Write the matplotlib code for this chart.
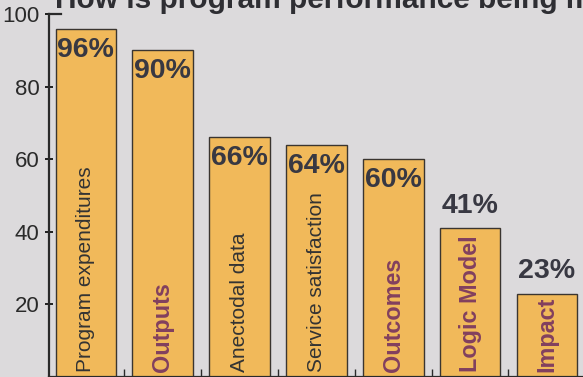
import matplotlib
matplotlib.use("Agg")
import matplotlib.pyplot as plt

categories = ["Program expenditures", "Outputs", "Anectodal data", "Service satisfaction",
              "Outcomes", "Logic Model", "Impact"]
percent = [96, 90, 66, 64, 60, 41, 23]
bold_label = [False, True, False, False, True, True, True]
y_ticks = [20, 40, 60, 80, 100]
title = "How is program performance being measured?"

BG = "#dcdadc"
BAR = "#f1b95a"
PURPLE = "#82405f"
DARK = "#333333"
FONT = "Liberation Sans"

fig = plt.figure(figsize=(5.83, 3.77), dpi=100, facecolor=BG)
ax = fig.add_axes([49 / 583, 0.0, 534 / 583, 363 / 377])
ax.set_facecolor(BG)
ax.set_xlim(-0.48, 6.47)
ax.set_ylim(0, 100)

x = range(len(categories))
ax.bar(x, percent, width=0.79, color=BAR, edgecolor="#3a3530", linewidth=1.0, zorder=2)

for i, (cat, val, bold) in enumerate(zip(categories, percent, bold_label)):
    if val > 50:
        ax.text(i, val - 2.2, f"{val}%", ha="center", va="top", fontsize=20.5,
                fontweight="bold", color="#383842", family=FONT, zorder=3)
    else:
        ax.text(i, val + 2.5, f"{val}%", ha="center", va="bottom", fontsize=20.5,
                fontweight="bold", color="#383842", family=FONT, zorder=3)
    ax.text(i, 1.5, cat, rotation=90, ha="center", va="bottom",
            fontsize=16.8 if bold else 15,
            fontweight="bold" if bold else "normal",
            color=PURPLE if bold else DARK, family=FONT, zorder=3)

ax.set_yticks(y_ticks)
ax.set_yticklabels([str(t) for t in y_ticks], fontsize=16, color="#2a2a2a", family=FONT)
ax.tick_params(axis="y", length=6, width=1.2, direction="inout", pad=4)
ax.set_xticks([i + 0.5 for i in range(len(categories) - 1)])
ax.set_xticklabels([])
ax.tick_params(axis="x", length=6, width=1.0, direction="in", colors="#2a2a2a")

for side in ("top", "right"):
    ax.spines[side].set_visible(False)
for side in ("left", "bottom"):
    ax.spines[side].set_linewidth(1.6)
    ax.spines[side].set_color("#2a2a2a")

# small cap at the top of the y axis
ax.plot([-0.48, -0.33], [100, 100], color="#2a2a2a", lw=1.6, clip_on=False)

fig.text(55 / 583, 1 - 8 / 377, title, ha="left", va="baseline", fontsize=21.5,
         fontweight="bold", color="#2e2e33", family=FONT)

fig.savefig("out.png", dpi=100, facecolor=BG)
